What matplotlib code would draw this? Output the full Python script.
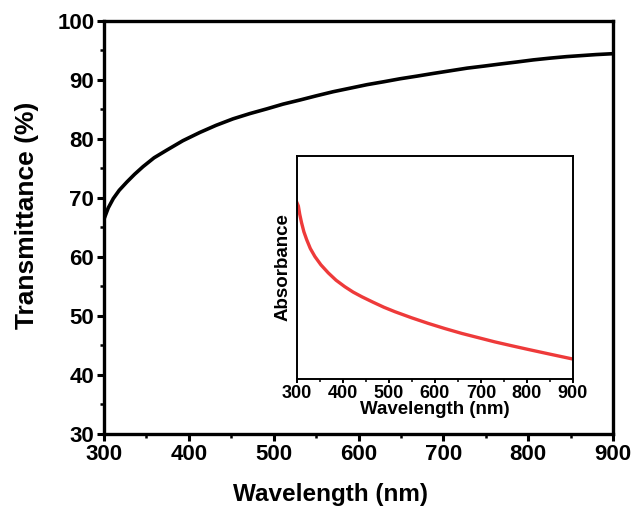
import numpy as np
import matplotlib.pyplot as plt
from matplotlib.ticker import MultipleLocator

plt.rcParams['font.family'] = ['Liberation Sans', 'DejaVu Sans']
plt.rcParams['font.weight'] = 'bold'

# transmittance curve (main panel)
wl_t = [300, 305, 311, 318, 327, 336, 346, 359, 374, 393, 413, 432, 452, 472, 492, 511, 531,
        550, 570, 590, 610, 630, 649, 669, 688, 708, 728, 748, 767, 787, 806, 826, 845, 865, 880, 900]
trans = [66.4, 68.3, 69.9, 71.3, 72.7, 74.0, 75.3, 76.8, 78.1, 79.7, 81.1, 82.3, 83.4, 84.3, 85.1,
         85.9, 86.6, 87.3, 88.0, 88.6, 89.2, 89.7, 90.2, 90.65, 91.1, 91.55, 92.0, 92.35, 92.7,
         93.05, 93.4, 93.7, 93.95, 94.15, 94.3, 94.45]

# absorbance curve (inset, arbitrary units)
wl_a = [300, 303, 306, 310, 315, 321, 329, 339, 352, 368, 385, 404, 422, 441, 465, 489, 513,
        549, 585, 621, 658, 694, 730, 766, 803, 850, 900]
absb = [0.79, 0.775, 0.738, 0.700, 0.660, 0.625, 0.585, 0.549, 0.512, 0.476, 0.443, 0.414, 0.390,
        0.369, 0.345, 0.322, 0.302, 0.275, 0.250, 0.227, 0.205, 0.186, 0.167, 0.150, 0.133, 0.112, 0.090]

fig = plt.figure(figsize=(6.38, 5.11), dpi=100)
ax = fig.add_axes([0.163, 0.151, 0.798, 0.808])
ax.plot(wl_t, trans, color='black', lw=2.6)
ax.set_xlim(300, 900)
ax.set_ylim(30, 100)
ax.xaxis.set_major_locator(MultipleLocator(100))
ax.xaxis.set_minor_locator(MultipleLocator(50))
ax.yaxis.set_major_locator(MultipleLocator(10))
ax.yaxis.set_minor_locator(MultipleLocator(5))
for s in ax.spines.values():
    s.set_linewidth(2.4)
ax.tick_params(which='major', direction='out', length=5, width=2.2, labelsize=16, pad=2)
ax.tick_params(which='minor', direction='out', length=3, width=1.8)
ax.tick_params(top=False, right=False, which='both')
ax.set_xlabel('Wavelength (nm)', fontsize=17.5, fontweight='bold')
ax.set_ylabel('Transmittance (%)', fontsize=19, fontweight='bold')
ax.xaxis.set_label_coords(0.444, -0.118)
ax.yaxis.set_label_coords(-0.127, 0.53)

ins = fig.add_axes([0.4655, 0.258, 0.4325, 0.437])
ins.plot(wl_a, absb, color='#ee3a3a', lw=2.4)
ins.set_xlim(300, 900)
ins.set_ylim(0, 1)
ins.xaxis.set_major_locator(MultipleLocator(100))
ins.xaxis.set_minor_locator(MultipleLocator(50))
ins.set_yticks([])
for s in ins.spines.values():
    s.set_linewidth(1.4)
ins.tick_params(which='major', direction='out', length=3, width=1.4, labelsize=13, pad=1.5)
ins.tick_params(which='minor', direction='out', length=2, width=1.1)
ins.set_xlabel('Wavelength (nm)', fontsize=13.5, fontweight='bold', labelpad=-1)
ins.set_ylabel('Absorbance', fontsize=13.5, fontweight='bold', labelpad=4)

fig.savefig('out.png', dpi=100)
